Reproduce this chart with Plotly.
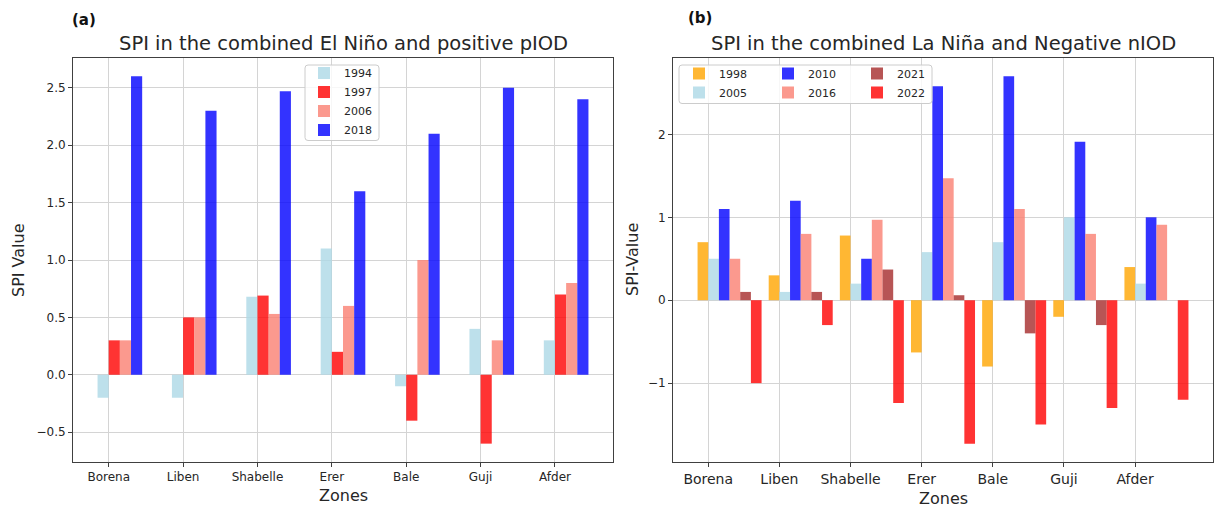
import plotly.graph_objects as go

# ---------------- data ----------------
zones = ["Borena", "Liben", "Shabelle", "Erer", "Bale", "Guji", "Afder"]

# Panel (a): combined El Niño and positive pIOD
years_a = ["1994", "1997", "2006", "2018"]
spi_1994 = [-0.2, -0.2, 0.68, 1.1, -0.1, 0.4, 0.3]
spi_1997 = [0.3, 0.5, 0.69, 0.2, -0.4, -0.6, 0.7]
spi_2006 = [0.3, 0.5, 0.53, 0.6, 1.0, 0.3, 0.8]
spi_2018 = [2.6, 2.3, 2.47, 1.6, 2.1, 2.5, 2.4]

# Panel (b): combined La Niña and Negative nIOD
years_b = ["1998", "2005", "2010", "2016", "2021", "2022"]
spi_1998 = [0.7, 0.3, 0.78, -0.63, -0.8, -0.2, 0.4]
spi_2005 = [0.5, 0.1, 0.2, 0.58, 0.7, 1.0, 0.2]
spi_2010 = [1.1, 1.2, 0.5, 2.58, 2.7, 1.91, 1.0]
spi_2016 = [0.5, 0.8, 0.97, 1.47, 1.1, 0.8, 0.91]
spi_2021 = [0.1, 0.1, 0.37, 0.06, -0.4, -0.3, 0.0]
spi_2022 = [-1.0, -0.3, -1.24, -1.73, -1.5, -1.3, -1.2]

values_a = [spi_1994, spi_1997, spi_2006, spi_2018]
values_b = [spi_1998, spi_2005, spi_2010, spi_2016, spi_2021, spi_2022]

# ---------------- styling ----------------
W, H = 1214, 508
BAR_W = 0.15
colors_a = ["rgba(173,216,230,0.8)", "rgba(255,0,0,0.8)",
            "rgba(250,128,114,0.8)", "rgba(0,0,255,0.8)"]
colors_b = ["rgba(255,165,0,0.8)", "rgba(173,216,230,0.8)", "rgba(0,0,255,0.8)",
            "rgba(250,128,114,0.8)", "rgba(165,42,42,0.8)", "rgba(255,0,0,0.8)"]
legends_b = ["legend2", "legend2", "legend3", "legend3", "legend4", "legend4"]

FONT = "DejaVu Sans"
TXT = "#262626"
AXC = "#404040"
GRID = "#d4d4d4"


def px_x(p):
    return p / W


def px_y(p):
    return 1 - p / H


# plot areas in pixels (left, right, top, bottom)
A_BOX = (73, 613, 58, 462)
B_BOX = (673, 1213, 58, 462)


def x_range(nseries):
    lo = -BAR_W
    hi = (len(zones) - 1) + (nseries - 1) * BAR_W
    pad = 0.05 * (hi - lo)
    return [lo - pad, hi + pad]


def y_range(vals):
    flat = [v for s in vals for v in s] + [0]
    lo, hi = min(flat), max(flat)
    pad = 0.05 * (hi - lo)
    return [lo - pad, hi + pad]


fig = go.Figure()

for i, (name, vals, col) in enumerate(zip(years_a, values_a, colors_a)):
    fig.add_trace(go.Bar(
        x=zones, y=vals, name=name, width=BAR_W, offset=-BAR_W + i * BAR_W,
        marker=dict(color=col, line=dict(width=0)),
        xaxis="x", yaxis="y", legend="legend"))

for i, (name, vals, col, lg) in enumerate(zip(years_b, values_b, colors_b, legends_b)):
    fig.add_trace(go.Bar(
        x=zones, y=vals, name=name, width=BAR_W, offset=-BAR_W + i * BAR_W,
        marker=dict(color=col, line=dict(width=0)),
        xaxis="x2", yaxis="y2", legend=lg))

axis_common = dict(
    showline=True, mirror=True, linecolor=AXC, linewidth=1,
    ticks="outside", ticklen=4, tickwidth=1, tickcolor=AXC,
    showgrid=True, gridcolor=GRID, gridwidth=1, zeroline=False,
    automargin=False,
)

fig.update_layout(
    width=W, height=H, autosize=False,
    margin=dict(l=0, r=0, t=0, b=0, autoexpand=False),
    paper_bgcolor="white", plot_bgcolor="white",
    barmode="overlay",
    font=dict(family=FONT, color=TXT),
    xaxis=dict(domain=[px_x(A_BOX[0]), px_x(A_BOX[1])], anchor="y",
               type="category", range=x_range(len(years_a)),
               tickfont=dict(size=12, color=TXT), **axis_common),
    yaxis=dict(domain=[px_y(A_BOX[3]), px_y(A_BOX[2])], anchor="x",
               range=y_range(values_a), dtick=0.5, tick0=0, tickformat=".1f",
               tickfont=dict(size=12, color=TXT), **axis_common),
    xaxis2=dict(domain=[px_x(B_BOX[0]), px_x(B_BOX[1])], anchor="y2",
                type="category", range=x_range(len(years_b)),
                tickfont=dict(size=14, color=TXT), **axis_common),
    yaxis2=dict(domain=[px_y(B_BOX[3]), px_y(B_BOX[2])], anchor="x2",
                range=y_range(values_b), dtick=1, tick0=0,
                tickfont=dict(size=12, color=TXT), **axis_common),
)

leg_common = dict(orientation="v", bgcolor="rgba(0,0,0,0)", borderwidth=0,
                  xanchor="left", yanchor="top", traceorder="normal",
                  font=dict(size=11, color=TXT, family=FONT))
fig.update_layout(
    legend=dict(x=px_x(304), y=px_y(58.5), **leg_common),
    legend2=dict(x=px_x(679), y=px_y(59), **leg_common),
    legend3=dict(x=px_x(768), y=px_y(59), **leg_common),
    legend4=dict(x=px_x(857), y=px_y(59), **leg_common),
)


def rounded_frame(x0, x1, y0, y1, r=3):
    X0, X1 = px_x(x0), px_x(x1)
    Y0, Y1 = px_y(y0), px_y(y1)  # Y0 top, Y1 bottom (paper)
    rx, ry = r / W, r / H
    return (f"M{X0+rx},{Y0} L{X1-rx},{Y0} Q{X1},{Y0} {X1},{Y0-ry} "
            f"L{X1},{Y1+ry} Q{X1},{Y1} {X1-rx},{Y1} "
            f"L{X0+rx},{Y1} Q{X0},{Y1} {X0},{Y1+ry} "
            f"L{X0},{Y0-ry} Q{X0},{Y0} {X0+rx},{Y0} Z")


fig.update_layout(shapes=[
    dict(type="path", xref="paper", yref="paper", layer="above",
         path=rounded_frame(305, 379, 65, 140.5),
         fillcolor="rgba(255,255,255,0.8)", line=dict(color="#cccccc", width=1)),
    dict(type="path", xref="paper", yref="paper", layer="above",
         path=rounded_frame(679, 932, 65, 103.5),
         fillcolor="rgba(255,255,255,0.8)", line=dict(color="#cccccc", width=1)),
])


def ann(text, x, y, size, bold=False, angle=0):
    return dict(text=f"<b>{text}</b>" if bold else text,
                x=px_x(x), y=px_y(y), xref="paper", yref="paper",
                xanchor="center", yanchor="middle", showarrow=False,
                textangle=angle, font=dict(size=size, color=TXT if not bold else "#111", family=FONT))


a_cx = (A_BOX[0] + A_BOX[1]) / 2
b_cx = (B_BOX[0] + B_BOX[1]) / 2
plot_cy = (A_BOX[2] + A_BOX[3]) / 2
fig.update_layout(annotations=[
    ann("(a)", 84, 20, 15, bold=True),
    ann("(b)", 700, 18, 15, bold=True),
    ann("SPI in the combined El Niño and positive pIOD", a_cx, 44, 19.5),
    ann("SPI in the combined La Niña and Negative nIOD", b_cx, 44, 19.5),
    ann("SPI Value", 18, plot_cy, 16, angle=-90),
    ann("SPI-Value", 632, plot_cy, 16, angle=-90),
    ann("Zones", a_cx, 495, 16),
    ann("Zones", b_cx, 498, 16),
])

# remove the default page margin so the figure fills the 1214x508 window exactly
post_js = ("document.body.style.margin='0';document.body.style.padding='0';"
           "document.body.style.overflow='hidden';"
           "var gd=document.getElementById('{plot_id}');"
           "Plotly.relayout(gd,{width:%d,height:%d});" % (W, H))

fig.write_html("out.html", post_script=post_js,
               config={"responsive": False, "displayModeBar": False})
